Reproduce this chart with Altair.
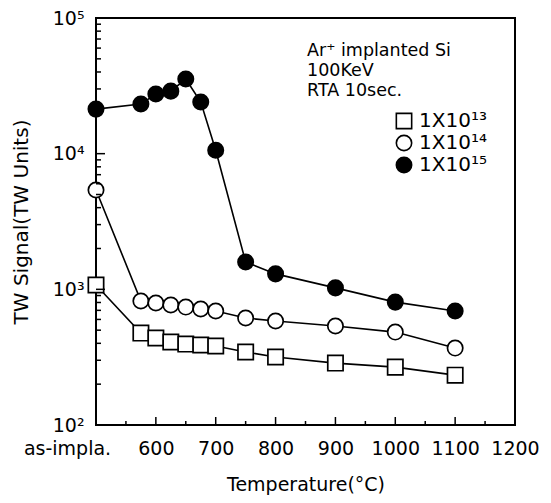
import altair as alt
import pandas as pd

# ---- data ----
temps = [500, 575, 600, 625, 650, 675, 700, 750, 800, 900, 1000, 1100]   # 500 = as-implanted
dose_1e13 = [1077, 476, 438, 409, 395, 389, 382, 345, 317, 286, 267, 233]
dose_1e14 = [5400, 820, 793, 766, 740, 716, 692, 615, 584, 537, 484, 369]
dose_1e15 = [21300, 23200, 27500, 28900, 35500, 24000, 10600, 1590, 1300, 1025, 805, 692]
series_names = ["1X10¹³", "1X10¹⁴", "1X10¹⁵"]

x_label_values = [500, 600, 700, 800, 900, 1000, 1100, 1200]
x_ticks_major = [600, 700, 800, 900, 1000, 1100]
x_ticks_minor = [550, 650, 750, 850, 950, 1050, 1150]
y_label_values = [100, 1000, 10000, 100000]
y_ticks_major = [1000, 10000]
y_ticks_minor = [200, 300, 400, 500, 600, 700, 800, 900,
                 2000, 3000, 4000, 5000, 6000, 7000, 8000, 9000,
                 20000, 30000, 40000, 50000, 60000, 70000, 80000, 90000]
note_lines = ["Ar⁺ implanted Si", "100KeV", "RTA 10sec."]

rows = []
for name, vals in zip(series_names, [dose_1e13, dose_1e14, dose_1e15]):
    for t, v in zip(temps, vals):
        rows.append({"series": name, "temp": t, "signal": v})
df = pd.DataFrame(rows)

FONT = "DejaVu Sans"
FS = 19
W, H = 419, 407

xscale = alt.Scale(domain=[500, 1200], nice=False, zero=False)
yscale = alt.Scale(type="log", domain=[100, 100000], nice=False)

x_axis = alt.Axis(
    values=x_label_values, format="d",
    labelExpr="datum.value == 500 ? 'as-impla.' : datum.label",
    labelOffset={"condition": {"test": "datum.value == 500", "value": -29}, "value": 0},
    ticks=False, grid=False, domain=False,
    labelFontSize=FS, labelColor="black", labelFont=FONT, labelPadding=14,
    labelFlush=False, labelOverlap=False,
    title="Temperature(°C)", titleFontSize=FS, titleFontWeight="normal",
    titleColor="black", titleFont=FONT, titlePadding=17,
)
y_axis = alt.Axis(
    values=y_label_values,
    labelExpr="'10' + (datum.value == 100 ? '²' : datum.value == 1000 ? '³' : datum.value == 10000 ? '⁴' : '⁵')",
    ticks=False, grid=False, domain=False,
    labelFontSize=FS, labelColor="black", labelFont=FONT, labelPadding=12,
    labelOverlap=False,
    title="TW Signal(TW Units)", titleFontSize=20, titleFontWeight="normal",
    titleColor="black", titleFont=FONT, titlePadding=21,
)

legend = alt.Legend(
    orient="none", legendX=298, legendY=93, title=None,
    labelFontSize=20, labelFont=FONT, labelColor="black",
    symbolStrokeWidth=1.6, symbolStrokeColor="black",
    rowPadding=0, labelOffset=5, padding=0,
)

X = alt.X("temp:Q", scale=xscale, axis=x_axis)
Y = alt.Y("signal:Q", scale=yscale, axis=y_axis)

base = alt.Chart(df)

lines = base.mark_line(color="black", strokeWidth=1.6).encode(
    x=X, y=Y, detail="series:N",
)

points = base.mark_point(filled=True, strokeWidth=1.7, opacity=1).encode(
    x=X, y=Y,
    shape=alt.Shape("series:N", scale=alt.Scale(domain=series_names, range=["square", "circle", "circle"]), legend=legend),
    fill=alt.Fill("series:N", scale=alt.Scale(domain=series_names, range=["white", "white", "black"]), legend=legend),
    stroke=alt.Stroke("series:N", scale=alt.Scale(domain=series_names, range=["black", "black", "black"]), legend=legend),
    size=alt.Size("series:N", scale=alt.Scale(domain=series_names, range=[235, 235, 285]), legend=legend),
)

xt_major = alt.Chart(pd.DataFrame({"temp": x_ticks_major})).mark_rule(color="black", strokeWidth=1.5).encode(
    x=X, y=alt.value(H), y2=alt.value(H - 8))
xt_minor = alt.Chart(pd.DataFrame({"temp": x_ticks_minor})).mark_rule(color="black", strokeWidth=1.5).encode(
    x=X, y=alt.value(H), y2=alt.value(H - 4))
yt_major = alt.Chart(pd.DataFrame({"signal": y_ticks_major})).mark_rule(color="black", strokeWidth=1.5).encode(
    y=Y, x=alt.value(0), x2=alt.value(9))
yt_minor = alt.Chart(pd.DataFrame({"signal": y_ticks_minor})).mark_rule(color="black", strokeWidth=1.5).encode(
    y=Y, x=alt.value(0), x2=alt.value(5))

note = alt.Chart(pd.DataFrame({"t": [note_lines]})).mark_text(
    align="left", baseline="top", fontSize=17.5, font=FONT, color="black",
    lineHeight=20,
).encode(x=alt.value(211), y=alt.value(24), text="t")

chart = alt.layer(lines, points, xt_major, xt_minor, yt_major, yt_minor, note).properties(
    width=W, height=H,
    autosize=alt.AutoSizeParams(type="none"),
    padding={"left": 88, "top": 10, "right": 28, "bottom": 70},
    background="white",
).configure_view(stroke="black", strokeWidth=2)

chart.save("out.html", embed_options={"renderer": "svg", "actions": False})
